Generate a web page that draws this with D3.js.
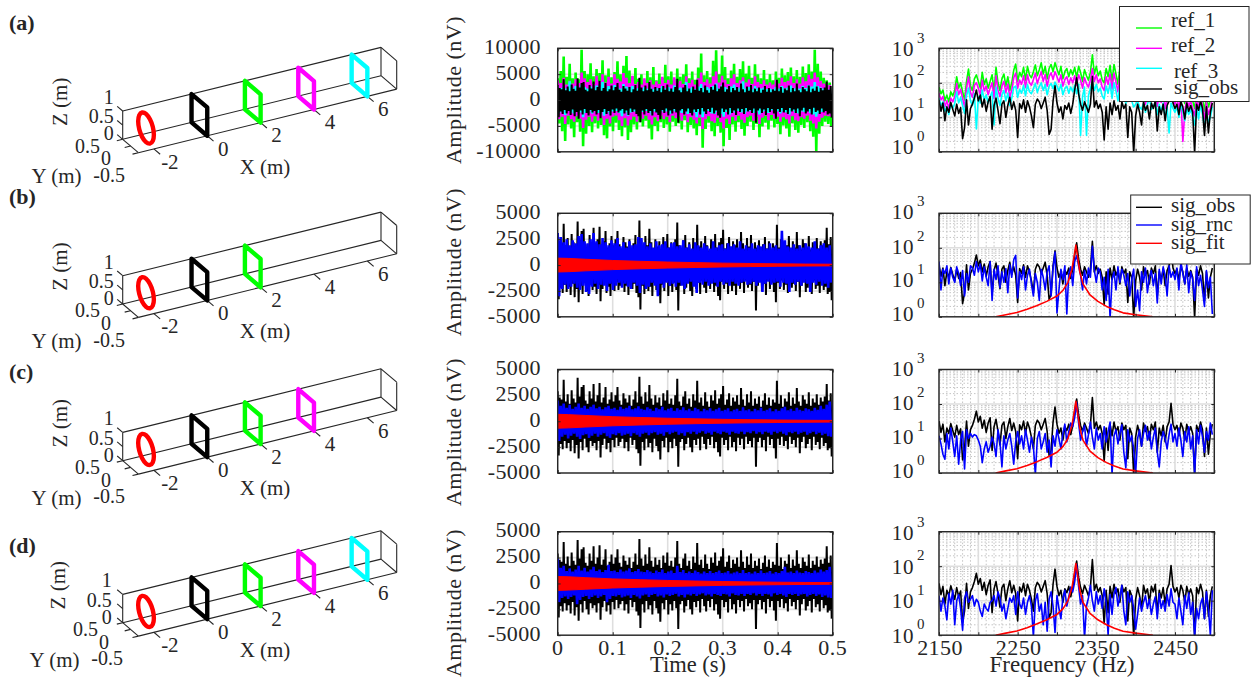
<!DOCTYPE html>
<html>
<head>
<meta charset="utf-8">
<script src="https://d3js.org/d3.v7.min.js"></script>
<style>
html, body { margin: 0; background: #fff; }
svg { display: block; }
text { font-family: "Liberation Serif", serif; fill: #262626; }
</style>
</head>
<body>
<svg width="1253" height="679"></svg>
<script>
// ---- data ----
var panelNames = ["(a)", "(b)", "(c)", "(d)"];

// coils: x position, colour (index = drawing order), and outlines in the Y-Z plane
var coilX = [-2, 0, 2, 4, 6];
var coilColors = ["#ff0000", "#000000", "#00ff00", "#ff00ff", "#00ffff"];
var coilCounts = [5, 3, 4, 5];
var squareY = [-0.5, -0.5, 0.5, 0.5];
var squareZ = [0, 1, 1, 0];
var circleY = [0.5, 0.43, 0.25, 0, -0.25, -0.43, -0.5, -0.43, -0.25, 0, 0.25, 0.43];
var circleZ = [0.5, 0.75, 0.93, 1, 0.93, 0.75, 0.5, 0.25, 0.07, 0, 0.07, 0.25];

var axisXTicks = [-2, 0, 2, 4, 6];
var axisYTicks = [0.5, 0, -0.5];
var axisZTicks = [0, 0.5, 1];

var timeTicks = [0, 0.1, 0.2, 0.3, 0.4, 0.5];
var ampTicksLarge = [-10000, -5000, 0, 5000, 10000];
var ampTicksSmall = [-5000, -2500, 0, 2500, 5000];
var freqTicks = [2150, 2200, 2250, 2300, 2350, 2400, 2450, 2500];
var freqLabels = [2150, 2250, 2350, 2450];
var decades = [1, 10, 100, 1000];

// time domain envelopes (nV)
var obsUp = [2900,2300,2100,4000,1900,2600,1700,3000,2200,1800,4200,2400,3300,3500,2000,1700,2900,2200,3600,1900,
2500,3700,1800,2300,3300,1700,2100,2800,1900,2500,3300,2000,1600,2700,2200,1800,2500,1500,2100,2900,
1800,4300,2400,1700,2800,1900,3500,2200,1600,2500,1800,2300,1500,2700,2000,3000,1700,2200,1600,2500,
4100,1900,1500,2400,2900,1700,2200,1400,2600,2000,3900,1800,2300,1500,2800,1900,1400,2500,2000,3000,
1700,2200,2600,3400,1600,2100,2700,1500,2300,1900,2500,1600,3200,2100,1500,2600,1800,2900,1500,2200,
1700,2400,1400,2000,2700,1600,2300,1500,2100,1800,3900,1700,2500,1400,2200,1900,2800,1500,2300,1700,
3200,1900,1500,2500,2100,1700,2800,1500,2200,1800,2600,1600,2300,1900,2400,3600,2000,2700];
var obsDown = [-3300,-2200,-2700,-1900,-2600,-2100,-2900,-1800,-3100,-2300,-3600,-2000,-2800,-1700,-2500,-3000,-1900,-2400,-2100,-2800,
-1900,-3500,-2300,-1700,-2700,-2100,-3000,-1800,-2500,-1600,-2400,-2000,-1700,-2600,-2000,-2900,-1600,-2300,-1800,-2700,
-3100,-4300,-2000,-2800,-1700,-2500,-2100,-3000,-1700,-2400,-2900,-3700,-1900,-2500,-1600,-3000,-2000,-2600,-1700,-2400,
-4400,-2000,-1700,-2800,-2200,-1600,-2500,-3000,-1800,-2300,-1700,-2800,-1500,-2200,-2700,-1700,-2300,-1500,-2600,-2000,
-3000,-3400,-1600,-2300,-1800,-2800,-1500,-2500,-2000,-2900,-1600,-2300,-1700,-2700,-1500,-2200,-1900,-2500,-1600,-4400,
-2000,-1600,-2500,-1800,-2900,-1500,-2300,-1700,-2600,-3600,-1700,-2300,-1500,-2400,-1900,-2700,-1500,-2200,-1800,-2500,
-1600,-3100,-2000,-1500,-2600,-2200,-1700,-2800,-1500,-2300,-2000,-2700,-1600,-2400,-2100,-2800,-2600,-3400];

var ref1Up = [4200,5600,8400,4500,7000,4200,5300,4000,9700,5600,5000,7100,4600,6000,5200,7700,4800,6100,4400,5400,
7500,5000,6600,8500,5700,4600,6200,4100,5000,3900,5600,4400,6400,3800,5100,4300,6800,4600,5500,4000,
6100,4500,5000,6900,4200,5500,3900,6300,9000,4800,5600,4400,7600,9600,5000,8600,6400,4200,5700,7000,
4500,6000,7500,5100,6600,4300,6900,5000,4200,5800,4000,5000,3800,5500,4300,6100,4800,5400,6300,4600,
5800,4500,6500,5200,6900,5500,9700,7000,5500,4300,3800,3400];
var ref1Down = [-4500,-6000,-7900,-4700,-5500,-7200,-4300,-6100,-8900,-6500,-5000,-6200,-4500,-5500,-4800,-6800,-7400,-5100,-6000,-4400,
-5800,-7000,-5300,-7700,-6200,-4700,-5700,-4300,-5100,-4000,-5500,-7600,-5000,-6000,-4300,-5400,-4700,-6100,-4200,-5000,
-4500,-5700,-3900,-6200,-4800,-5500,-6800,-5000,-9200,-5600,-4400,-6000,-7000,-5000,-6300,-8900,-5400,-7700,-4700,-6100,
-4300,-5600,-6900,-5000,-4200,-5800,-4600,-7200,-5100,-4400,-5700,-4000,-5300,-4600,-6600,-4900,-5500,-7100,-4500,-5800,
-6300,-4800,-5400,-4300,-6000,-7100,-9900,-6500,-5000,-4200,-4600,-5000];
var ref2Up = [3800,3300,4300,3000,3700,3200,4000,3300,5300,4200,3500,4000,3100,4700,3600,5000,3400,4500,3200,5000,
4100,3600,5200,4300,3300,4700,3100,3500,3000,4200,3300,3800,3000,3600,3100,4500,3300,3900,3000,4400,
3400,3700,3100,4600,3300,3900,3000,4200,5300,3500,4000,3200,4600,5500,3400,4700,3900,3100,4200,5000,
3300,3800,4400,3400,4000,3100,4600,3500,3100,3800,3000,3400,3000,3900,3200,4300,3500,3700,4600,3300,
4000,3200,4400,3600,4900,4100,5300,4400,3700,3200,3000,2900];
var ref2Down = [-3700,-3200,-4600,-3000,-3700,-4200,-3100,-3600,-5400,-3800,-3200,-4200,-3100,-4000,-3400,-4800,-3600,-4500,-3200,-3000,
-3900,-5000,-3500,-4900,-3800,-3200,-4200,-3000,-3600,-3000,-3800,-4700,-3300,-4100,-3000,-3700,-3200,-4300,-3000,-3500,
-3100,-4000,-3000,-4300,-3300,-3800,-4500,-3400,-5600,-3700,-3100,-4100,-4400,-3400,-4300,-5500,-3600,-4600,-3200,-4000,
-3000,-3800,-4400,-3300,-3000,-4000,-3200,-4600,-3400,-3000,-3900,-2900,-3600,-3200,-4200,-3300,-3700,-4500,-3100,-3900,
-4100,-3300,-3600,-3000,-4000,-4500,-5500,-4200,-3400,-3000,-3100,-3200];
var ref3Up = [2600,2300,2800,2200,3600,2300,2700,2400,3000,2500,2200,2600,2200,2800,2400,3500,2300,2700,2200,2900,
2500,2200,3100,2600,2200,2700,2100,2300,2100,2500,2200,2400,2100,2300,2200,2700,2200,2500,2100,2800,
2200,2400,2100,3500,2200,2500,2100,2600,3100,2300,2500,2200,2700,3200,2200,2800,2500,2200,2600,3000,
2200,2400,3600,2200,2500,2100,2700,2300,2200,2400,2100,2200,2100,2500,2200,2700,2300,2400,2800,2200,
2500,2200,2700,2300,2900,2600,3500,2700,2400,2200,2100,2000];
var ref3Down = [-2500,-2200,-2900,-2100,-2500,-2700,-2100,-2400,-3300,-2500,-2200,-2600,-2100,-2500,-2300,-3000,-2300,-2800,-2200,-2100,
-2500,-3100,-2300,-3000,-2400,-2200,-2600,-2100,-2300,-2100,-2400,-2900,-2200,-2600,-2100,-2400,-2200,-2700,-2100,-2300,
-2100,-2500,-2100,-2700,-2200,-2400,-3300,-2300,-3300,-2400,-2100,-2600,-2700,-2300,-2700,-3200,-2300,-2800,-2200,-2500,
-2100,-2400,-2700,-2200,-2100,-2500,-2200,-2800,-2300,-2100,-2500,-2000,-2300,-2200,-2600,-2200,-2400,-2800,-2100,-2500,
-2600,-2200,-2300,-2100,-2500,-2800,-3200,-2600,-2300,-2100,-2100,-2200];

var rncBUp = [3100,2700,2200,2500,1900,2400,2100,2800,3000,2300,2100,2500,3100,2300,2000,2600,2200,1900,2400,2100,
2600,1800,2200,1700,2300,1900,2000,2700,2600,2200,1800,2100,1700,2300,1900,2000,2300,1700,2100,2200,
1800,1900,2400,1700,2000,1600,2200,1900,1700,2100,1800,1600,2300,1700,1900,2000,1600,2100,1800,2000,
1700,2300,1600,1900,1700,2100,1600,1900,1800,2000,1600,2100,1700,1900,1600,3300,2400,1800,1700,2000,
1600,1900,1700,2100,1800,1700,2300,1600,1900,2100,1700,1900];
var rncBDown = [-3000,-2300,-1900,-2300,-2100,-1800,-2200,-2400,-2000,-2600,-2800,-2100,-1800,-2300,-1900,-2000,-2500,-1800,-2400,-2000,
-1700,-2200,-1800,-2100,-2300,-1700,-2000,-2700,-1900,-2300,-2100,-1700,-2000,-3000,-1800,-2200,-1700,-2000,-1800,-2100,
-1700,-2000,-2300,-1800,-1600,-2100,-2700,-1700,-1900,-1600,-2000,-1800,-1700,-2100,-1600,-1900,-1700,-2000,-1600,-1800,
-2000,-1700,-1600,-1900,-1800,-1600,-2000,-1700,-2600,-1800,-1600,-1900,-1700,-1600,-2100,-1700,-1800,-2600,-1700,-1900,
-1600,-2000,-1700,-1800,-2600,-1700,-1900,-1600,-2000,-1800,-2200,-1700];
var rncCUp = [2000,1500,1700,1300,1600,1200,1400,1700,1300,1500,1200,1400,1600,1250,1400,1150,1350,1500,1200,1300,
1100,1400,1200,1300,1500,1150,1250,1450,1200,1100,1350,1200,1000,1300,1150,1400,1050,1200,1300,1000,
1250,1100,1350,1050,1200,1000,1300,1150,950,1200,1050,1250,1000,1150,1300,1000,1100,1250,950,1100,
1200,1000,1350,1050,1150,950,1200,1050,1300,1000,1100,1250,950,1150,1000,1250,1400,1050,1200,1000,
1300,1100,1000,1250,1150,1000,1300,1100,1500,1200,1600,1900];
var rncCDown = [-1900,-1500,-1300,-1650,-1400,-1200,-1500,-1700,-1350,-1250,-1600,-1400,-1200,-1500,-1300,-1150,-1450,-1600,-1250,-1350,
-1150,-1400,-1300,-1200,-1450,-1150,-1300,-1500,-1200,-1100,-1350,-1150,-1050,-1300,-1200,-1400,-1050,-1250,-1100,-1000,
-1300,-1150,-1400,-1050,-1200,-1000,-1250,-1100,-950,-1200,-1100,-1300,-1000,-1150,-1250,-1000,-1100,-1300,-1000,-1150,
-1200,-1000,-1250,-1050,-1150,-950,-1200,-1050,-1250,-1000,-1100,-1300,-1000,-1150,-1000,-1200,-1350,-1050,-1150,-1000,
-1250,-1100,-1000,-1300,-1150,-1000,-1250,-1100,-1350,-1200,-1450,-1500];
var rncDUp = [2400,1500,1700,1200,1450,1150,1350,1700,1250,1500,1150,1350,1600,1200,1350,1100,1300,1800,1200,1250,
1100,1350,1150,1250,1450,1100,1200,1400,1150,1100,1300,1150,1000,1250,1100,1350,1000,1150,1250,1000,
1700,1100,1300,1000,1150,1000,1250,1100,950,1150,1000,1200,1000,1100,1250,1000,1050,1200,950,1050,
1150,1000,1300,1000,1100,950,1150,1000,1250,1000,1050,1200,950,1100,1000,1200,1600,1050,1150,1000,
1250,1050,1000,1200,1100,1000,1250,1050,1350,1150,1300,1600];
var rncDDown = [-1800,-1400,-1250,-1500,-1300,-1150,-2000,-1600,-1300,-1200,-1500,-1300,-1150,-1400,-1250,-1100,-1800,-1500,-1200,-1250,
-1100,-1350,-1250,-1150,-1400,-1100,-1250,-1450,-1150,-1050,-1300,-1100,-1000,-1250,-1150,-1350,-1050,-1200,-1100,-1000,
-1250,-1100,-1350,-1050,-1150,-1000,-1200,-1050,-950,-1150,-1050,-1250,-1000,-1100,-1200,-1000,-1050,-1250,-950,-1100,
-1150,-1000,-1200,-1000,-1100,-950,-1150,-1000,-1200,-1000,-1050,-1250,-950,-1100,-1000,-1150,-1300,-1000,-1100,-1000,
-1200,-1050,-1000,-1250,-1100,-1000,-1200,-1050,-1300,-1150,-1350,-1400];

var fitTime = [0, 0.02, 0.05, 0.1, 0.15, 0.2, 0.25, 0.3, 0.35, 0.4, 0.45, 0.5];
var fitAmp = [670, 640, 560, 440, 360, 290, 235, 185, 150, 120, 95, 80];

// spectra (nV), one value every 2.5 Hz from 2150 Hz
var specObs = [32,15,26,8,20,14,27,17,11,24,13,19,2.4,5,32,6,18,24,36,62,
30,44,20,34,15,28,40,4.5,22,36,16,6.5,24,30,10,22,38,17,28,16,
2.6,25,18,32,14,30,20,11,5,24,34,28,18,26,38,16,3.2,4.5,30,82,
26,14,20,9,22,17,26,13,24,62,140,48,24,16,28,20,14,24,155,20,
30,18,24,14,2.2,20,4.5,26,12,30,16,22,9,28,18,24,2.6,20,14,0.9,
11,24,14,6,28,16,22,9,26,18,30,4,20,12,24,8,22,30,105,26,
18,24,12,28,20,9,26,15,22,14,0.9,24,16,30,18,3,20,3.5,14,26];
var specRef1 = [75,48,62,30,44,28,55,42,60,150,70,100,55,32,110,250,80,60,130,170,
110,70,200,90,130,70,110,170,55,280,100,60,130,180,80,150,60,100,230,350,
110,200,150,280,120,300,170,140,210,330,160,240,380,180,300,130,260,340,210,380,
250,170,300,130,210,260,150,240,170,280,140,300,200,110,240,160,120,200,650,180,
300,160,220,120,100,260,150,320,110,340,180,90,280,150,200,70,170,120,90,60,
70,90,60,50,80,40,70,110,50,60,85,35,70,45,80,30,60,50,120,55,
40,60,30,70,45,25,55,35,50,30,18,60,28,70,35,15,45,20,30,60];
var specRef2 = [50,32,40,20,30,18,36,28,40,95,45,65,35,20,70,150,52,38,85,100,
70,45,120,58,80,45,70,100,35,160,62,40,80,110,52,92,38,62,140,190,
70,120,90,160,75,170,100,85,125,190,95,145,210,110,175,80,150,195,125,210,
150,105,170,80,125,150,90,140,100,160,85,170,120,70,140,95,75,120,260,110,
170,100,130,75,60,150,90,180,65,190,105,55,160,90,120,42,100,72,55,36,
42,55,36,30,48,24,42,65,30,36,50,21,42,27,48,18,36,30,70,33,
24,36,18,42,2,15,33,21,30,18,11,36,17,42,21,9,27,12,18,36];
var specRef3 = [36,22,28,15,20,12,25,18,25,55,26,38,22,13,42,70,30,22,48,4.6,
40,26,62,32,45,26,40,55,6,75,35,22,45,60,30,50,22,36,72,80,
38,65,50,85,42,90,55,48,68,95,52,78,100,60,90,45,80,95,68,105,
80,58,90,45,68,80,50,75,55,85,48,90,3,40,75,3,42,68,110,60,
90,55,70,42,34,80,50,95,36,100,58,30,85,50,65,24,55,40,30,20,
24,30,20,17,26,14,24,36,17,20,28,12,24,15,26,10,20,3.5,26,18,
14,20,10,24,15,8,18,12,17,10,6,20,9,24,12,5,15,7,10,20];
var specRncB = [40,6,24,18,30,9,26,14,10,28,18,8,22,4,18,10,30,26,16,40,
20,34,11,28,14,8,40,3,24,12,30,7,20,10,25,5,32,14,45,60,
3.5,20,12,28,6,16,24,9,4,18,10,3,24,14,6,20,30,4,26,75,
1.3,6,24,12,30,1.2,18,28,8,40,60,30,16,6,22,9,26,14,110,22,
10,26,20,6,14,3,24,0.9,12,20,6,28,10,24,16,8,18,4,12,24,
2,6,1.5,20,10,26,5,14,22,8,18,2.5,24,9,28,16,4,30,14,20,
12,26,6,40,18,9,32,5,20,12,3,28,8,16,6,2,22,7,14,1.2];
var specRncC = [12,7,3.5,2.5,14,5,20,8,3,12,1.8,9,16,1.3,18,10,14,11,13,12,
9,6,2,5,8,4,6,11,7,3,18,8,1.5,12,5,9,14,6,1.8,8,
16,7,12,5,18,9,4,11,6,0.9,10,16,5,8,14,4,9,1.5,12,6,
18,10,5,14,26,8,16,28,22,40,110,28,9,16,24,6,13,30,11,5,
20,9,14,5,22,8,16,30,0.9,12,18,7,14,25,4,1.4,18,8,12,5,
1,10,18,6,14,24,9,16,5,11,20,4,1.5,8,16,10,5,13,26,8,
14,6,20,9,3,16,8,22,5,12,0.9,18,7,24,11,4,16,9,28,13];
var specRncD = [14,5,12,7,2.8,16,8,20,2,10,15,6,1.4,12,18,9,11,14,7,11,
9,5,3.5,8,6,5,9,10,14,7,18,12,5,8,3,6,12,9,14,4,
18,8,6,12,4,9,14,7,0.9,10,16,5,8,2,9,1.3,11,18,7,1.2,
14,6,3,12,20,7,13,25,18,35,110,26,8,14,0.8,7,12,28,10,5,
18,8,14,6,22,9,1,15,4,16,24,7,13,28,5,2,18,9,14,6,
1.5,4,12,5,9,14,6,11,4,8,13,3,16,6,10,5,15,7,22,9,
8,3,12,5,2,14,6,17,4,9,0.9,6,3,8,12,3,18,6,1,20];

var fitFreq = [2222,2235,2249,2262,2274,2287,2300,2308,2314,2319,2322,2324,2326,2329,2333,2342,2352,2363,2373,2384,2400,2422];
var fitSpec = [1,1.15,1.33,1.65,2.1,2.8,4,6,10,24,60,120,60,20,9,4.3,2.8,2,1.6,1.3,1.15,1];

// ---- layout ----
var svg = d3.select("svg");
var ink = "#262626";
var panelTops = [48.3, 213.3, 369.5, 531.7];
var plotHeight = 103.5;
var timeLeft = 557.7, timeRight = 832.7;
var freqLeft = 939, freqRight = 1214.3;
var boxBases = [139.3, 304, 460.7, 622.7];
var boxLeft = 122.7;
var panelLabelY = [22, 196, 371, 545];
var ampLabelY = [90, 262, 432, 603];
var decadeShift = [[-5, -3.5, -2, 0], [-3, -2.5, -1.5, -1.5], [-2, -2, -1, -1], [0, 0, 0, 1]];
var boxLabelShift = [0, 0, 0, -2];

var xScale = d3.scaleLinear().domain([0, 0.5]).range([timeLeft, timeRight]);
var fScale = d3.scaleLinear().domain([2150, 2500]).range([freqLeft, freqRight]);

// oblique projection of the 3D box, one scale per screen contribution
var xToPx = d3.scaleLinear().domain([-2.58, 7.1]).range([0, 258.3]);
var xToPy = d3.scaleLinear().domain([-2.58, 7.1]).range([0, -63.6]);
var yToPx = d3.scaleLinear().domain([0.5, -0.5]).range([0, 15.7]);
var yToPy = d3.scaleLinear().domain([0.5, -0.5]).range([0, 13.4]);
var zToPy = d3.scaleLinear().domain([0, 1]).range([0, -28.3]);

function project(base, p) {
    return [boxLeft + xToPx(p[0]) + yToPx(p[1]), base + xToPy(p[0]) + yToPy(p[1]) + zToPy(p[2])];
}

function addText(g, x, y, str, size, anchor) {
    return g.append("text")
        .attr("x", x)
        .attr("y", y)
        .attr("dy", "0.35em")
        .attr("text-anchor", anchor || "middle")
        .style("font-size", (size || 20) + "px")
        .text(str);
}

function drawBox(index) {
    var base = boxBases[index], shift = boxLabelShift[index];
    var g = svg.append("g");
    var xMin = xToPx.domain()[0], xMax = xToPx.domain()[1];
    var segment = d3.line();
    var edges = [
        [[xMin, 0.5, 1], [xMax, 0.5, 1]],
        [[xMin, 0.5, 0], [xMax, 0.5, 0]],
        [[xMin, -0.5, 0], [xMax, -0.5, 0]],
        [[xMin, 0.5, 0], [xMin, 0.5, 1]],
        [[xMin, 0.5, 0], [xMin, -0.5, 0]],
        [[xMax, 0.5, 0], [xMax, 0.5, 1]],
        [[xMax, -0.5, 0], [xMax, -0.5, 1]],
        [[xMax, 0.5, 1], [xMax, -0.5, 1]],
        [[xMax, 0.5, 0], [xMax, -0.5, 0]]
    ];
    axisXTicks.forEach(function (t) {
        edges.push([[t, -0.5, 0], [t, -0.9, 0]]);
        var c = project(base, [t, -0.5, 0]);
        addText(g, c[0] + 16, c[1] + 12.5, t, 21);
    });
    axisZTicks.forEach(function (t, i) {
        edges.push([[xMin, 0.5, t], [xMin, 0.85, t]]);
        var c = project(base, [xMin, 0.5, t]);
        addText(g, c[0] - 9 + shift, c[1] + [-6, -9, -14][i], t, 20, "end");
    });
    axisYTicks.forEach(function (t, i) {
        edges.push([[xMin, t, 0], [xMin - 0.22, t, 0]]);
        var c = project(base, [xMin, t, 0]);
        var dx = [-22.7, -19.5, -13.4][i], dy = [6.3, 12.3, 22.3][i];
        addText(g, c[0] + dx + shift, c[1] + dy, t, 20, "end");
    });
    g.selectAll("path.edge").data(edges).enter().append("path")
        .attr("class", "edge")
        .attr("fill", "none")
        .attr("stroke", ink)
        .attr("stroke-width", 1.1)
        .attr("d", function (d) {
            return segment(d.map(function (p) { return project(base, p); }));
        });

    addText(g, 265, base + 27, "X (m)", 21);
    addText(g, 56.5 + shift, base + 36.5, "Y (m)", 21);
    addText(g, 0, 0, "Z (m)", 21)
        .attr("transform", "translate(" + (60 + shift) + "," + (base - 37.5) + ") rotate(-90)");

    // coils
    var closedLine = d3.line();
    var circleLine = d3.line().curve(d3.curveCardinalClosed.tension(0.2));
    coilX.slice(0, coilCounts[index]).forEach(function (cx, i) {
        var isCircle = i === 0;
        var ys = isCircle ? circleY : squareY, zs = isCircle ? circleZ : squareZ;
        var pts = ys.map(function (y, k) { return project(base, [cx, y, zs[k]]); });
        g.append("path")
            .attr("fill", "none")
            .attr("stroke", coilColors[i])
            .attr("stroke-width", 4.4)
            .attr("stroke-linejoin", "round")
            .attr("d", isCircle ? circleLine(pts) : closedLine(pts) + "Z");
    });
}

function drawFrame(g, x, y, xTicks, yTicks) {
    var top = y.range()[1], bottom = y.range()[0], left = x.range()[0], right = x.range()[1];
    g.append("rect")
        .attr("x", left).attr("y", top)
        .attr("width", right - left).attr("height", bottom - top)
        .attr("fill", "none").attr("stroke", ink).attr("stroke-width", 1.4);
    var sides = [
        [d3.axisBottom(x).tickValues(xTicks), 0, bottom, -3],
        [d3.axisTop(x).tickValues(xTicks), 0, top, -3],
        [d3.axisLeft(y).tickValues(yTicks), left, 0, -3],
        [d3.axisRight(y).tickValues(yTicks), right, 0, -3]
    ];
    sides.forEach(function (s) {
        var a = g.append("g")
            .attr("transform", "translate(" + s[1] + "," + s[2] + ")")
            .call(s[0].tickSize(s[3]).tickFormat(""));
        a.select(".domain").remove();
        a.selectAll("line").attr("stroke", ink);
    });
}

function majorGrid(g, x, y, xTicks, yTicks) {
    var grid = g.append("g").attr("stroke", "#dedede").attr("stroke-width", 1.6);
    grid.selectAll("line.vg").data(xTicks).enter().append("line")
        .attr("class", "vg")
        .attr("x1", x).attr("x2", x)
        .attr("y1", y.range()[0]).attr("y2", y.range()[1]);
    grid.selectAll("line.hg").data(yTicks).enter().append("line")
        .attr("class", "hg")
        .attr("y1", y).attr("y2", y)
        .attr("x1", x.range()[0]).attr("x2", x.range()[1]);
}

function clipFor(id, g, x, y) {
    g.append("clipPath").attr("id", id).append("rect")
        .attr("x", x.range()[0]).attr("y", y.range()[1])
        .attr("width", x.range()[1] - x.range()[0])
        .attr("height", y.range()[0] - y.range()[1]);
}

function drawTime(index, bands) {
    var top = panelTops[index];
    var ticks = index === 0 ? ampTicksLarge : ampTicksSmall;
    var y = d3.scaleLinear().domain([ticks[0], ticks[4]]).range([top + plotHeight, top]);
    var g = svg.append("g");
    majorGrid(g, xScale, y, timeTicks, ticks);
    clipFor("tc" + index, g, xScale, y);
    var plot = g.append("g").attr("clip-path", "url(#tc" + index + ")");
    bands.forEach(function (b) {
        if (b.t) {
            // fitted decay, symmetric envelope
            var area = d3.area()
                .x(function (d, i) { return xScale(b.t[i]); })
                .y0(function (d) { return y(-d); })
                .y1(function (d) { return y(d); });
            plot.append("path")
                .attr("fill", b.color)
                .attr("stroke", b.color)
                .attr("d", area(b.up));
            return;
        }
        // noisy signal: zigzag between the upper and the lower peak of each column
        var n = b.up.length;
        var pts = [];
        b.up.forEach(function (u, i) {
            pts.push([i / n * 0.5, u]);
            pts.push([(i + 0.5) / n * 0.5, b.down[i]]);
        });
        var line = d3.line()
            .x(function (d) { return xScale(d[0]); })
            .y(function (d) { return y(d[1]); });
        plot.append("path")
            .attr("fill", "none")
            .attr("stroke", b.color)
            .attr("stroke-width", b.width)
            .attr("d", line(pts));
    });
    drawFrame(g, xScale, y, timeTicks, ticks);
    ticks.forEach(function (t) {
        addText(g, 541, y(t) - 2, t, 22, "end").style("letter-spacing", "0.4px");
    });
    if (index === 3) {
        timeTicks.forEach(function (t) {
            addText(g, xScale(t), 647, t, 22).style("letter-spacing", "0.4px");
        });
        addText(g, 688, 664, "Time (s)", 22.5);
    }
    addText(g, 0, 0, "Amplitude (nV)", 22)
        .attr("transform", "translate(453," + ampLabelY[index] + ") rotate(-90)")
        .style("letter-spacing", "0.5px");
}

function drawSpec(index, series) {
    var top = panelTops[index];
    var y = d3.scaleLog().domain([1, 1000]).range([top + plotHeight, top]);
    var g = svg.append("g");

    // dotted minor grid
    var minorF = d3.range(2150, 2501, 10).filter(function (f) { return freqTicks.indexOf(f) < 0; });
    var minorV = y.ticks().filter(function (v) { return decades.indexOf(v) < 0; });
    var minor = g.append("g").attr("stroke", "#c4c4c4").attr("stroke-width", 1).attr("stroke-dasharray", "1.5 2");
    minor.selectAll("line.v").data(minorF).enter().append("line")
        .attr("class", "v")
        .attr("x1", fScale).attr("x2", fScale)
        .attr("y1", y(1)).attr("y2", y(1000));
    minor.selectAll("line.h").data(minorV).enter().append("line")
        .attr("class", "h")
        .attr("y1", y).attr("y2", y)
        .attr("x1", freqLeft).attr("x2", freqRight);
    majorGrid(g, fScale, y, freqTicks, decades);

    clipFor("fc" + index, g, fScale, y);
    var plot = g.append("g").attr("clip-path", "url(#fc" + index + ")");
    series.forEach(function (s) {
        var line = d3.line()
            .x(function (d, i) { return fScale(s.f ? s.f[i] : 2150 + i * 2.5); })
            .y(function (d) { return y(d); });
        plot.append("path")
            .attr("fill", "none")
            .attr("stroke", s.color)
            .attr("stroke-width", 1.6)
            .attr("stroke-linejoin", "round")
            .attr("d", line(s.values));
    });
    drawFrame(g, fScale, y, freqTicks, decades);

    decades.forEach(function (v, i) {
        var p = y(v) + decadeShift[index][i];
        addText(g, 914, p, "10", 21, "end").style("letter-spacing", "0.6px");
        addText(g, 917, p - 11, Math.round(Math.log10(v)), 15, "start");
    });
    if (index === 3) {
        freqLabels.forEach(function (t) {
            addText(g, fScale(t) + 1, 647, t, 22).style("letter-spacing", "0.4px");
        });
        addText(g, 1062, 664, "Frequency (Hz)", 23);
    }
}

function drawLegend(x, y, w, h, entries) {
    var g = svg.append("g");
    g.append("rect")
        .attr("x", x).attr("y", y).attr("width", w).attr("height", h)
        .attr("fill", "#fff").attr("stroke", ink).attr("stroke-width", 1);
    entries.forEach(function (e) {
        g.append("line")
            .attr("x1", 1136).attr("x2", 1162)
            .attr("y1", e.lineY).attr("y2", e.lineY)
            .attr("stroke", e.color).attr("stroke-width", 1.4);
        addText(g, e.textX, e.textY, e.name, 21, "start");
    });
}

// ---- draw ----
panelNames.forEach(function (name, i) {
    addText(svg, 9, panelLabelY[i], name, 22, "start").style("font-weight", "bold");
    drawBox(i);
});

var fitBand = {up: fitAmp, t: fitTime, color: "#ff0000"};
var obsBand = {up: obsUp, down: obsDown, color: "#000000", width: 2};
drawTime(0, [
    {up: ref1Up, down: ref1Down, color: "#00ff00", width: 2.6},
    {up: ref2Up, down: ref2Down, color: "#ff00ff", width: 2.6},
    {up: ref3Up, down: ref3Down, color: "#00ffff", width: 2.6},
    obsBand
]);
drawTime(1, [obsBand, {up: rncBUp, down: rncBDown, color: "#0000ff", width: 2.6}, fitBand]);
drawTime(2, [obsBand, {up: rncCUp, down: rncCDown, color: "#0000ff", width: 2.6}, fitBand]);
drawTime(3, [obsBand, {up: rncDUp, down: rncDDown, color: "#0000ff", width: 2.6}, fitBand]);

var obsSpec = {values: specObs, color: "#000000"};
var fitLine = {values: fitSpec, f: fitFreq, color: "#ff0000"};
drawSpec(0, [
    {values: specRef1, color: "#00ff00"},
    {values: specRef2, color: "#ff00ff"},
    {values: specRef3, color: "#00ffff"},
    obsSpec
]);
drawSpec(1, [obsSpec, {values: specRncB, color: "#0000ff"}, fitLine]);
drawSpec(2, [obsSpec, {values: specRncC, color: "#0000ff"}, fitLine]);
drawSpec(3, [obsSpec, {values: specRncD, color: "#0000ff"}, fitLine]);

drawLegend(1119.5, 6.5, 129.5, 95, [
    {name: "ref_1", color: "#00ff00", lineY: 28, textX: 1171, textY: 20},
    {name: "ref_2", color: "#ff00ff", lineY: 48.3, textX: 1171, textY: 45},
    {name: "ref_3", color: "#00ffff", lineY: 68.3, textX: 1174, textY: 70.5},
    {name: "sig_obs", color: "#000000", lineY: 89, textX: 1174, textY: 86.5}
]);
drawLegend(1130.7, 195, 119.5, 69, [
    {name: "sig_obs", color: "#000000", lineY: 207.3, textX: 1171, textY: 205},
    {name: "sig_rnc", color: "#0000ff", lineY: 225, textX: 1171, textY: 224},
    {name: "sig_fit", color: "#ff0000", lineY: 243.3, textX: 1171, textY: 241.5}
]);
</script>
</body>
</html>
